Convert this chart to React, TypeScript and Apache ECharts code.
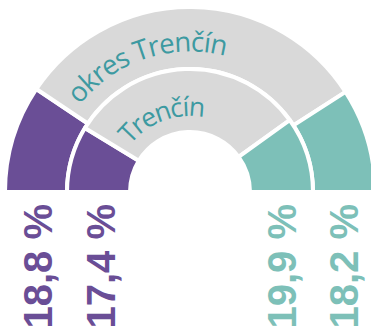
import React, { useEffect, useRef } from "react";
import * as echarts from "echarts";

const rings = ["okres Trenčín", "Trenčín"];
const leftValues = [18.8, 17.4]; // purple share, outer / inner
const rightValues = [18.2, 19.9]; // teal share, outer / inner
const valueLabels = ["18,8 %", "17,4 %", "19,9 %", "18,2 %"];

const PURPLE = "#6a4e96";
const TEAL = "#7dc0b8";
const GRAY = "#d9d9d9";
const TEXT_TEAL = "#3d9aa1";

const CX = 190;
const CY = 192;
const OUTER_R: [number, number] = [123, 185];
const INNER_R: [number, number] = [60, 123];

function measure(ctx: CanvasRenderingContext2D | null, s: string, font: string, size: number) {
  if (!ctx) return size * 0.55;
  ctx.font = `${size}px ${font}`;
  return ctx.measureText(s).width;
}

function arcText(text: string, r: number, midDeg: number, size: number) {
  const canvas = document.createElement("canvas");
  const ctx = canvas.getContext("2d");
  const font = '"Open Sans"';
  const chars = Array.from(text);
  const widths = chars.map((c) => measure(ctx, c, font, size));
  const total = widths.reduce((a, b) => a + b, 0);
  let cum = 0;
  const els: any[] = [];
  chars.forEach((c, i) => {
    const s = -total / 2 + cum + widths[i] / 2;
    cum += widths[i];
    const theta = (midDeg * Math.PI) / 180 - s / r;
    els.push({
      type: "text",
      x: CX + r * Math.cos(theta),
      y: CY - r * Math.sin(theta),
      rotation: theta - Math.PI / 2,
      silent: true,
      z: 100,
      style: {
        text: c,
        fontSize: size,
        fontFamily: "Open Sans",
        fill: TEXT_TEAL,
        align: "center",
        verticalAlign: "middle",
        textAlign: "center",
        textVerticalAlign: "middle",
      },
    });
  });
  return els;
}

function ringSeries(radius: [number, number], left: number, right: number) {
  return {
    type: "pie",
    center: [CX, CY],
    radius,
    startAngle: 180,
    clockwise: true,
    silent: true,
    label: { show: false },
    labelLine: { show: false },
    itemStyle: { borderColor: "#ffffff", borderWidth: 4 },
    data: [
      { value: left, itemStyle: { color: PURPLE } },
      { value: 100 - left - right, itemStyle: { color: GRAY } },
      { value: right, itemStyle: { color: TEAL } },
      { value: 100, itemStyle: { color: "transparent", borderWidth: 0 } },
    ],
  };
}

export default function App() {
  const ref = useRef<HTMLDivElement>(null);
  useEffect(() => {
    document.body.style.margin = "0";
    if (!ref.current) return;
    const chart = echarts.init(ref.current, undefined, { renderer: "svg" });

    const outerMid = (OUTER_R[0] + OUTER_R[1]) / 2;
    const innerMid = (INNER_R[0] + INNER_R[1]) / 2;
    const cols = [CX - outerMid + 2, CX - innerMid + 2, CX + innerMid, CX + outerMid];
    const colColors = [PURPLE, PURPLE, TEAL, TEAL];

    const labels = valueLabels.map((t, i) => ({
      type: "text",
      x: cols[i],
      y: 204,
      rotation: Math.PI / 2,
      silent: true,
      z: 100,
      style: {
        text: t,
        fontSize: 40,
        fontWeight: "bold",
        fontFamily: "Liberation Sans, Arial, sans-serif",
        fill: colColors[i],
        align: "right",
        verticalAlign: "middle",
        textAlign: "right",
        textVerticalAlign: "middle",
      },
    }));

    chart.setOption({
      animation: false,
      backgroundColor: "#ffffff",
      series: [
        ringSeries(OUTER_R, leftValues[0], rightValues[0]),
        ringSeries(INNER_R, leftValues[1], rightValues[1]),
      ],
      graphic: [
        ...arcText(rings[0], 151, 108.5, 27.5),
        ...arcText(rings[1], 86, 110.5, 26.5),
        ...labels,
      ],
    });
    return () => chart.dispose();
  }, []);
  return <div ref={ref} style={{ width: 371, height: 330 }} />;
}
